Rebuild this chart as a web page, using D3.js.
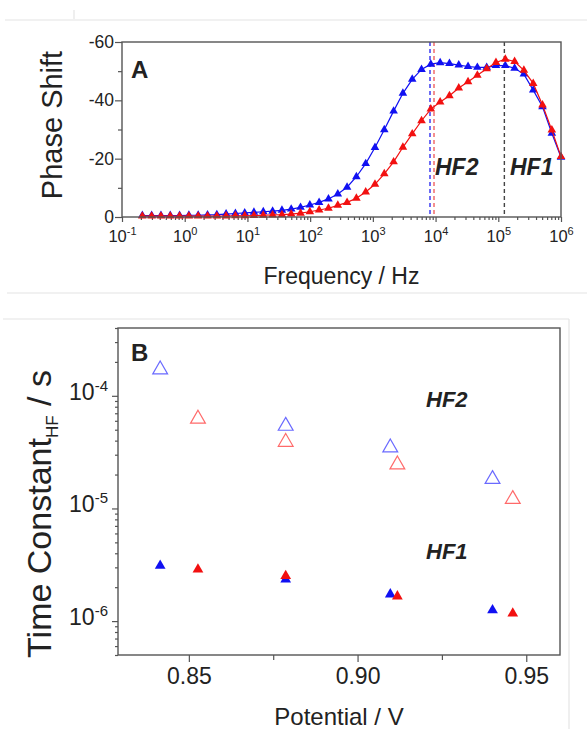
<!DOCTYPE html>
<html>
<head>
<meta charset="utf-8">
<script src="https://cdn.jsdelivr.net/npm/d3@7"></script>
<style>
  body { margin: 0; background: #fff; }
  text { font-family: Arial, "Liberation Sans", sans-serif; fill: #222; }
</style>
</head>
<body>
<div id="chart"></div>
<script>
// ---- panel A data: phase shift vs frequency ----
const freq = [0.211, 0.297, 0.418, 0.588, 0.828, 1.165, 1.64, 2.31, 3.25, 4.57, 6.43, 9.05,
  12.7, 17.9, 25.2, 35.5, 49.9, 70.3, 98.9, 139, 196, 276, 388, 546, 769, 1081, 1521, 2142,
  3013, 4244, 5970, 8400, 11830, 16640, 23440, 32960, 46370, 65310, 91830, 129400, 182000,
  255900, 360600, 507000, 714500, 1000000];
const phaseBlue = [-0.5, -0.5, -0.5, -0.5, -0.5, -0.6, -0.6, -0.7, -0.8, -1.0, -1.2, -1.4,
  -1.6, -1.8, -2.0, -2.3, -2.7, -3.3, -4.1, -5.0, -6.2, -7.9, -10.2, -13.8, -18.3, -23.8, -29.9, -36.3,
  -42.4, -47.2, -50.6, -52.4, -52.9, -52.6, -52.1, -51.6, -51.3, -51.3, -51.9, -51.9, -51.0,
  -49.0, -43.5, -37.8, -28.7, -20.5];
const phaseRed = [-0.3, -0.3, -0.3, -0.3, -0.3, -0.3, -0.3, -0.3, -0.3, -0.35, -0.4, -0.4,
  -0.5, -0.6, -0.7, -0.8, -1.0, -1.3, -1.8, -2.4, -3.0, -4.0, -5.0, -6.4, -8.6, -11.2, -14.8, -18.9,
  -23.9, -28.5, -33.0, -37.0, -39.4, -41.6, -44.2, -46.4, -48.6, -50.8, -53.0, -54.1, -53.3,
  -50.3, -45.8, -38.4, -29.8, -20.7];
const markerFreq = {blue: 8150, red: 9440, black: 125000};
const phaseTicks = [0, -20, -40, -60];
const phaseMinor = [-10, -30, -50];
const freqTicks = [1e-1, 1e0, 1e1, 1e2, 1e3, 1e4, 1e5, 1e6];

// ---- panel B data: time constants vs potential ----
const potBlue = [0.8415, 0.8787, 0.9097, 0.940];
const potRed = [0.8527, 0.8787, 0.9118, 0.946];
const hf2Blue = [1.71e-4, 5.4e-5, 3.47e-5, 1.82e-5];
const hf2Red = [6.25e-5, 3.89e-5, 2.45e-5, 1.21e-5];
const hf1Blue = [3.1e-6, 2.35e-6, 1.73e-6, 1.25e-6];
const hf1Red = [2.88e-6, 2.52e-6, 1.66e-6, 1.17e-6];
const potTicks = [0.85, 0.90, 0.95];
const potMinor = [0.875, 0.925];
const tauTicks = [1e-6, 1e-5, 1e-4];

const W = 587, H = 729;
const BLUE = "#1010f2", RED = "#f21010";

const svg = d3.select("#chart").append("svg")
  .attr("width", W).attr("height", H);

// faint figure borders from the source image
const guides = [[5, 20, 587, 20], [7, 293, 587, 293], [3, 319, 569, 319], [569, 319, 569, 729], [74, 10, 74, 19]];
svg.selectAll("line.guide").data(guides).enter().append("line")
  .attr("class", "guide")
  .attr("x1", d => d[0]).attr("y1", d => d[1]).attr("x2", d => d[2]).attr("y2", d => d[3])
  .attr("stroke", "#e4e4e4").attr("stroke-width", 1.2);

function supLabel(sel, exp, baseSize, supSize, supDy) {
  sel.append("tspan").text("10").attr("font-size", baseSize);
  sel.append("tspan").text(exp).attr("font-size", supSize).attr("dy", supDy);
}

function styleAxis(g) {
  g.select(".domain").remove();
  g.selectAll(".tick line").attr("stroke", "#555").attr("stroke-width", 1.2);
}

// ================= Panel A =================
const A = {left: 122, right: 561, top: 42, bottom: 217};
const xA = d3.scaleLog().domain([0.1, 1e6]).range([A.left, A.right]);
const yA = d3.scaleLinear().domain([0, -60]).range([A.bottom, A.top]);

// minor x ticks (2..9 per decade)
const freqMinor = [];
freqTicks.slice(0, -1).forEach(d => { for (let k = 2; k <= 9; k++) freqMinor.push(d * k); });

svg.append("g").attr("transform", `translate(0,${A.bottom})`)
  .call(d3.axisBottom(xA).tickValues(freqMinor).tickSize(3).tickFormat(""))
  .call(styleAxis);
const gxA = svg.append("g").attr("transform", `translate(0,${A.bottom})`)
  .call(d3.axisBottom(xA).tickValues(freqTicks).tickSize(5).tickFormat(""))
  .call(styleAxis);
gxA.selectAll(".tick").append("text")
  .attr("y", 25).attr("text-anchor", "middle").attr("fill", "#222")
  .each(function (d) { supLabel(d3.select(this), String(Math.round(Math.log10(d))), 16.5, 11, -7); });

svg.append("g").attr("transform", `translate(${A.left},0)`)
  .call(d3.axisLeft(yA).tickValues(phaseMinor).tickSize(4).tickFormat(""))
  .call(styleAxis);
const gyA = svg.append("g").attr("transform", `translate(${A.left},0)`)
  .call(d3.axisLeft(yA).tickValues(phaseTicks).tickSize(7).tickFormat(d => d))
  .call(styleAxis);
gyA.selectAll(".tick text").attr("font-size", 17.5).attr("fill", "#222").attr("x", -8);

// dashed markers
[["blue", "#3030f0"], ["red", "#f06060"], ["black", "#444"]].forEach(([k, c]) => {
  svg.append("line")
    .attr("x1", xA(markerFreq[k])).attr("x2", xA(markerFreq[k]))
    .attr("y1", A.top).attr("y2", A.bottom)
    .attr("stroke", c).attr("stroke-width", 1.4).attr("stroke-dasharray", "4,3");
});

const lineA = d3.line().x((d, i) => xA(freq[i])).y(d => yA(d));
const triA = d3.symbol().type(d3.symbolTriangle).size(32)();
[[phaseBlue, BLUE], [phaseRed, RED]].forEach(([vals, c]) => {
  svg.append("path").attr("d", lineA(vals)).attr("fill", "none").attr("stroke", c).attr("stroke-width", 1.2);
  svg.append("g").selectAll("path").data(vals).enter().append("path")
    .attr("d", triA)
    .attr("transform", (d, i) => `translate(${xA(freq[i])},${yA(d)})`)
    .attr("fill", c);
});

svg.append("rect").attr("x", A.left).attr("y", A.top)
  .attr("width", A.right - A.left).attr("height", A.bottom - A.top)
  .attr("fill", "none").attr("stroke", "#555").attr("stroke-width", 1.4);

svg.append("text").attr("x", 131).attr("y", 78).attr("font-size", 24).attr("font-weight", "bold").attr("fill", "#111").text("A");
svg.append("text").attr("x", 435).attr("y", 175).attr("font-size", 23).attr("font-weight", "bold").attr("font-style", "italic").attr("fill", "#111").text("HF2");
svg.append("text").attr("x", 510).attr("y", 175).attr("font-size", 23).attr("font-weight", "bold").attr("font-style", "italic").attr("fill", "#111").text("HF1");

svg.append("text").attr("transform", "translate(62,125) rotate(-90)")
  .attr("text-anchor", "middle").attr("font-size", 29).text("Phase Shift");
svg.append("text").attr("x", (A.left + A.right) / 2).attr("y", 284)
  .attr("text-anchor", "middle").attr("font-size", 23).text("Frequency / Hz");

// ================= Panel B =================
const B = {left: 118, right: 560, top: 328, bottom: 655};
const xB = d3.scaleLinear().domain([0.829, 0.960]).range([B.left, B.right]);
const yB = d3.scaleLog().domain([5e-7, 4e-4]).range([B.bottom, B.top]);

const tauMinor = [];
[1e-7, 1e-6, 1e-5, 1e-4].forEach(d => { for (let k = 2; k <= 9; k++) { const v = d * k; if (v >= 5e-7 && v <= 4e-4) tauMinor.push(v); } });

svg.append("g").attr("transform", `translate(0,${B.bottom})`)
  .call(d3.axisBottom(xB).tickValues(potMinor).tickSize(5).tickFormat(""))
  .call(styleAxis);
const gxB = svg.append("g").attr("transform", `translate(0,${B.bottom})`)
  .call(d3.axisBottom(xB).tickValues(potTicks).tickSize(7).tickFormat(d3.format(".2f")))
  .call(styleAxis);
gxB.selectAll(".tick text").attr("font-size", 23).attr("fill", "#222").attr("y", 13);

svg.append("g").attr("transform", `translate(${B.left},0)`)
  .call(d3.axisLeft(yB).tickValues(tauMinor).tickSize(3).tickFormat(""))
  .call(styleAxis);
const gyB = svg.append("g").attr("transform", `translate(${B.left},0)`)
  .call(d3.axisLeft(yB).tickValues(tauTicks).tickSize(6).tickFormat(""))
  .call(styleAxis);
gyB.selectAll(".tick").append("text")
  .attr("x", -10).attr("dy", "0.35em").attr("text-anchor", "end").attr("fill", "#222")
  .each(function (d) { supLabel(d3.select(this), String(Math.round(Math.log10(d))), 23, 15, -9); });

const triOpen = d3.symbol().type(d3.symbolTriangle).size(95)();
const triFill = d3.symbol().type(d3.symbolTriangle).size(50)();
function drawB(xs, ys, c, open) {
  svg.append("g").selectAll("path").data(ys).enter().append("path")
    .attr("d", open ? triOpen : triFill)
    .attr("transform", (d, i) => `translate(${xB(xs[i])},${yB(d)})`)
    .attr("fill", open ? "none" : c)
    .attr("stroke", open ? c : "none")
    .attr("stroke-width", 1.2);
}
drawB(potBlue, hf2Blue, "#6a6aff", true);
drawB(potRed, hf2Red, "#ff6a6a", true);
drawB(potBlue, hf1Blue, BLUE, false);
drawB(potRed, hf1Red, RED, false);

svg.append("rect").attr("x", B.left).attr("y", B.top)
  .attr("width", B.right - B.left).attr("height", B.bottom - B.top)
  .attr("fill", "none").attr("stroke", "#555").attr("stroke-width", 1.4);

svg.append("text").attr("x", 131).attr("y", 361).attr("font-size", 24).attr("font-weight", "bold").attr("fill", "#111").text("B");
svg.append("text").attr("x", 426).attr("y", 407).attr("font-size", 22).attr("font-weight", "bold").attr("font-style", "italic").attr("fill", "#111").text("HF2");
svg.append("text").attr("x", 426).attr("y", 559).attr("font-size", 22).attr("font-weight", "bold").attr("font-style", "italic").attr("fill", "#111").text("HF1");

const yt = svg.append("text").attr("transform", "translate(51,514) rotate(-90)")
  .attr("text-anchor", "middle").attr("font-size", 34);
yt.append("tspan").text("Time Constant");
yt.append("tspan").text("HF").attr("font-size", 17).attr("dy", 7);
yt.append("tspan").text(" / s").attr("dy", -7);

svg.append("text").attr("x", (B.left + B.right) / 2).attr("y", 725)
  .attr("text-anchor", "middle").attr("font-size", 24).text("Potential / V");
</script>
</body>
</html>
